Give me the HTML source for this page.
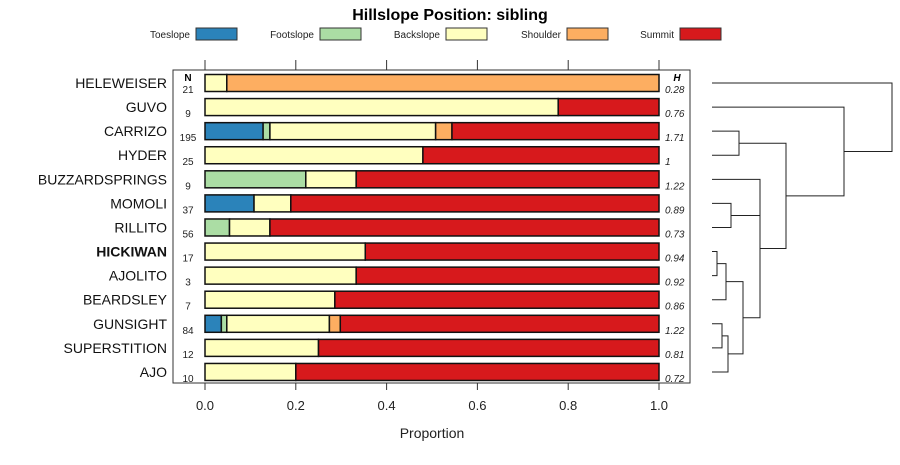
<!DOCTYPE html>
<html><head><meta charset="utf-8"><style>
body{margin:0;background:#fff}
svg text{font-family:"Liberation Sans",sans-serif}
</style></head><body>
<svg id="chart" width="900" height="460" xmlns="http://www.w3.org/2000/svg">
<text x="450" y="20" text-anchor="middle" font-size="16" font-weight="bold">Hillslope Position: sibling</text>
<g id="legend"></g>
<rect x="173" y="70" width="517" height="313" fill="none" stroke="#333"/>
<g id="axes"></g><g id="bars"></g><g id="dendro"></g>
<text x="432" y="438" text-anchor="middle" font-size="14" fill="#222">Proportion</text>
<text x="188" y="81" text-anchor="middle" font-size="10" font-weight="bold">N</text>
<text x="677" y="81" text-anchor="middle" font-size="10" font-weight="bold" font-style="italic">H</text>
</svg>
<script>
const categories=["HELEWEISER","GUVO","CARRIZO","HYDER","BUZZARDSPRINGS","MOMOLI","RILLITO","HICKIWAN","AJOLITO","BEARDSLEY","GUNSIGHT","SUPERSTITION","AJO"];
const seriesNames=["Toeslope","Footslope","Backslope","Shoulder","Summit"];
const toeslope=[0,0,0.128,0,0,0.108,0,0,0,0,0.036,0,0];
const footslope=[0,0,0.015,0,0.222,0,0.054,0,0,0,0.012,0,0];
const backslope=[0.048,0.778,0.365,0.48,0.111,0.081,0.089,0.353,0.333,0.286,0.226,0.25,0.2];
const shoulder=[0.952,0,0.036,0,0,0,0,0,0,0,0.024,0,0];
const summit=[0,0.222,0.456,0.52,0.667,0.811,0.857,0.647,0.667,0.714,0.702,0.75,0.8];
const nValues=[21,9,195,25,9,37,56,17,3,7,84,12,10];
const hValues=["0.28","0.76","1.71","1","1.22","0.89","0.73","0.94","0.92","0.86","1.22","0.81","0.72"];
const ticks=[0,0.2,0.4,0.6,0.8,1];
const tickLabels=["0.0","0.2","0.4","0.6","0.8","1.0"];
const colors=["#2b83ba","#abdda4","#ffffbf","#fdae61","#d7191c"];
const NS="http://www.w3.org/2000/svg";
const xS=v=>205+454*v, yS=i=>83+24.08*i;
function mk(tag,attrs,parent,txt){const e=document.createElementNS(NS,tag);for(const k in attrs)e.setAttribute(k,attrs[k]);if(txt!==undefined)e.textContent=txt;parent.appendChild(e);return e;}
const svg=document.getElementById('chart');
const lg=document.getElementById('legend');
const lgx=[196,320,446,567,680];
seriesNames.forEach((s,i)=>{
 const t=mk('text',{x:lgx[i]-6,y:38,'text-anchor':'end','font-size':10,fill:'#222'},lg,s);
 
 
 const r=mk('rect',{x:lgx[i],y:28,width:41,height:12,fill:colors[i],stroke:'#333'},lg);
 
 
});
const ax=document.getElementById('axes');
ticks.forEach((t,i)=>{
 const x=xS(t);
 const l1=mk('line',{x1:x,x2:x,y1:60,y2:70,stroke:'#333'},ax);
 
 
 const l2=mk('line',{x1:x,x2:x,y1:383,y2:390,stroke:'#333'},ax);
 
 
 const tl=mk('text',{x:x,y:410,'text-anchor':'middle','font-size':13,fill:'#222'},ax,tickLabels[i]);
 
 
});
const bg=document.getElementById('bars');
const series=[toeslope,footslope,backslope,shoulder,summit];
categories.forEach((c,i)=>{
 const y=yS(i);
 const lab=mk('text',{x:167,y:y+5,'text-anchor':'end','font-size':14,fill:'#111','font-weight':c==='HICKIWAN'?'bold':'normal'},bg,c);
 
 
 const nt=mk('text',{x:188,y:y+10,'text-anchor':'middle','font-size':10,fill:'#222'},bg,String(nValues[i]));
 
 
 const ht=mk('text',{x:665,y:y+10,'font-size':10,'font-style':'italic',fill:'#222'},bg,hValues[i]);
 
 
 let cum=0;
 series.forEach((s,j)=>{
  const v=s[i]; if(v<=0)return;
  const r=mk('rect',{x:xS(cum),y:y-8.5,width:xS(cum+v)-xS(cum),height:17,fill:colors[j],stroke:'#111','stroke-width':1.5},bg);
  
  
  cum+=v;
 });
});
// dendrogram: [xMerge, yA, xA, yB, xB]
const dg=document.getElementById('dendro');
const L=712;
function link(x,ya,xa,yb,xb){
 const p=mk('path',{d:`M${xa},${ya}H${x}V${yb}H${xb}`,fill:'none',stroke:'#222','stroke-width':1},dg);
 
 
}
const Y=yS;
link(717,Y(7),L,Y(8),L);
link(726,(Y(7)+Y(8))/2,717,Y(9),L);
link(722,Y(10),L,Y(11),L);
link(728,(Y(10)+Y(11))/2,722,Y(12),L);
const e=((Y(7)+Y(8))/2+Y(9))/2, f=((Y(10)+Y(11))/2+Y(12))/2;
link(743,e,726,f,728);
link(731,Y(5),L,Y(6),L);
const mr=(Y(5)+Y(6))/2, d=(e+f)/2;
link(760,Y(4),L,d,743);
link(760,mr,731,mr,731);
const b=(Y(4)+d)/2;
link(739,Y(2),L,Y(3),L);
const a=(Y(2)+Y(3))/2;
link(786,a,739,b,760);
const ab=(a+b)/2;
link(844,Y(1),L,ab,786);
link(892,Y(0),L,(Y(1)+ab)/2,844);
</script>
</body></html>
